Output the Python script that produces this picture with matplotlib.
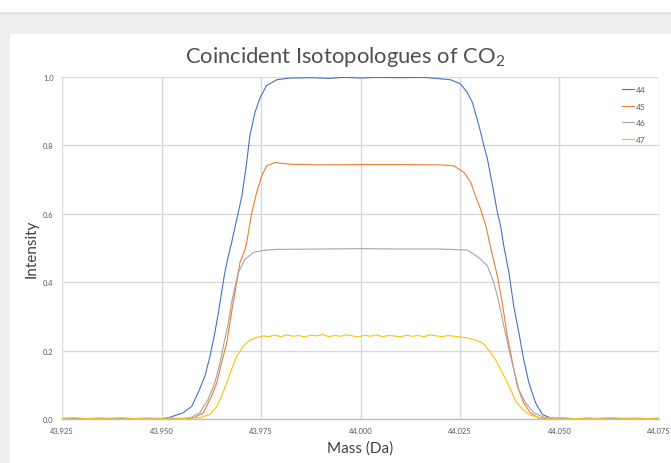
import matplotlib
matplotlib.use('Agg')
import matplotlib.pyplot as plt
from matplotlib.patches import Rectangle

plt.rcParams['font.family'] = ['Lato', 'DejaVu Sans']
plt.rcParams['mathtext.fontset'] = 'custom'
plt.rcParams['mathtext.rm'] = 'Lato'
plt.rcParams['mathtext.default'] = 'regular'

# %% Data
x_ticks = [43.925, 43.950, 43.975, 44.000, 44.025, 44.050, 44.075]
y_ticks = [0.0, 0.2, 0.4, 0.6, 0.8, 1.0]
labels = ['44', '45', '46', '47']
colors = ['#4472C4', '#ED7D31', '#A5A5A5', '#FFC000']

m44 = [43.925, 43.945, 43.950, 43.9521, 43.9554, 43.9576, 43.9592, 43.9609, 43.9622, 43.9634,
       43.9643, 43.9651, 43.9659, 43.9668, 43.9676, 43.9689, 43.9702, 43.9714, 43.9722, 43.9735,
       43.9748, 43.9764, 43.9790, 43.9823, 43.988, 43.992, 43.996, 44.000, 44.004, 44.010,
       44.016, 44.0226, 44.0251, 44.0268, 44.0281, 44.0293, 44.0302, 44.0310, 44.0319, 44.0327,
       44.0335, 44.0344, 44.0352, 44.0360, 44.0373, 44.0385, 44.0398, 44.0410, 44.0423, 44.0440,
       44.0457, 44.0478, 44.055, 44.075]
i44 = [0, 0, 0.001, 0.005, 0.018, 0.037, 0.077, 0.125, 0.184, 0.252,
       0.311, 0.37, 0.428, 0.477, 0.515, 0.584, 0.652, 0.75, 0.828, 0.897,
       0.94, 0.975, 0.992, 0.997, 0.998, 0.996, 0.999, 0.997, 0.999, 0.998,
       0.999, 0.992, 0.98, 0.955, 0.926, 0.877, 0.838, 0.799, 0.76, 0.711,
       0.662, 0.604, 0.565, 0.506, 0.428, 0.33, 0.252, 0.174, 0.106, 0.047,
       0.013, 0.003, 0, 0]

m45 = [43.925, 43.955, 43.958, 43.9605, 43.9626, 43.9639, 43.9651, 43.9664, 43.9672, 43.968,
       43.9689, 43.9697, 43.971, 43.9714, 43.9727, 43.9739, 43.9752, 43.9764, 43.9785, 43.9823,
       43.990, 44.000, 44.010, 44.0201, 44.0235, 44.026, 44.0277, 44.0289, 44.0302, 44.0315,
       44.0327, 44.0344, 44.0356, 44.0369, 44.0382, 44.0394, 44.041, 44.0427, 44.0448, 44.050,
       44.075]
i45 = [0, 0, 0.003, 0.018, 0.067, 0.106, 0.165, 0.223, 0.282, 0.34,
       0.399, 0.457, 0.496, 0.516, 0.604, 0.662, 0.711, 0.74, 0.75, 0.745,
       0.743, 0.744, 0.744, 0.743, 0.74, 0.721, 0.692, 0.652, 0.613, 0.565,
       0.501, 0.418, 0.34, 0.242, 0.165, 0.096, 0.047, 0.018, 0.003, 0,
       0]

m46 = [43.925, 43.954, 43.9571, 43.9596, 43.9617, 43.9634, 43.9647, 43.9659, 43.9668, 43.9676,
       43.9685, 43.9693, 43.971, 43.9731, 43.9756, 43.979, 43.990, 44.000, 44.010, 44.020,
       44.0268, 44.0285, 44.0302, 44.0319, 44.0335, 44.0348, 44.036, 44.0373, 44.0385, 44.0398,
       44.0415, 44.0436, 44.0461, 44.052, 44.075]
i46 = [0, 0, 0.003, 0.018, 0.057, 0.106, 0.165, 0.233, 0.282, 0.34,
       0.389, 0.428, 0.467, 0.487, 0.493, 0.496, 0.497, 0.498, 0.497, 0.497,
       0.494, 0.482, 0.467, 0.447, 0.399, 0.34, 0.272, 0.204, 0.145, 0.086,
       0.047, 0.018, 0.005, 0, 0]

m47 = [43.925, 43.928, 43.931, 43.934, 43.937, 43.940, 43.943, 43.946, 43.949, 43.952,
       43.955, 43.9575, 43.9596, 43.9622, 43.9639, 43.9651, 43.9664, 43.9676, 43.9689, 43.9706,
       43.9722, 43.9739, 43.9755, 43.977, 43.9785, 43.980, 43.9815, 43.983, 43.9845, 43.986,
       43.9875, 43.989, 43.9905, 43.992, 43.9935, 43.995, 43.9965, 43.998, 43.9995, 44.001,
       44.0025, 44.004, 44.0055, 44.007, 44.0085, 44.010, 44.0115, 44.013, 44.0145, 44.016,
       44.0175, 44.019, 44.0205, 44.022, 44.0235, 44.0251, 44.0268, 44.0285, 44.030, 44.031,
       44.0327, 44.0339, 44.0352, 44.0365, 44.0377, 44.039, 44.0407, 44.0427, 44.0452, 44.048,
       44.051, 44.054, 44.057, 44.060, 44.063, 44.066, 44.069, 44.072, 44.075]
i47 = [0.002, 0.004, 0.001, 0.003, 0.002, 0.004, 0.001, 0.003, 0.002, 0.003,
       0.002, 0.003, 0.004, 0.013, 0.037, 0.067, 0.106, 0.145, 0.184, 0.213,
       0.231, 0.238, 0.243, 0.241, 0.245, 0.241, 0.246, 0.242, 0.244, 0.240,
       0.245, 0.243, 0.247, 0.241, 0.244, 0.242, 0.246, 0.243, 0.240, 0.245,
       0.242, 0.246, 0.241, 0.244, 0.243, 0.240, 0.245, 0.242, 0.244, 0.241,
       0.246, 0.243, 0.241, 0.244, 0.242, 0.240, 0.237, 0.232, 0.226, 0.219,
       0.194, 0.174, 0.145, 0.116, 0.086, 0.052, 0.028, 0.011, 0.004, 0.002,
       0.004, 0.001, 0.003, 0.002, 0.004, 0.002, 0.003, 0.001, 0.003]

series = [(m44, i44), (m45, i45), (m46, i46), (m47, i47)]

# %% Figure with the Excel-like frame
W, H = 671, 464
fig = plt.figure(figsize=(W / 100, H / 100), dpi=100)
fig.patch.set_facecolor('#EEEFF1')
fig.patches.append(Rectangle((0, 1 - 13 / H), 1, 13 / H, transform=fig.transFigure,
                             facecolor='white', edgecolor='none', zorder=-2))
fig.patches.append(Rectangle((0, 1 - 16 / H), 1, 3 / H, transform=fig.transFigure,
                             facecolor='#E2E3E5', edgecolor='none', zorder=-2))
fig.patches.append(Rectangle((10 / W, 0), 1, 1 - 35 / H, transform=fig.transFigure,
                             facecolor='white', edgecolor='none', zorder=-2))

ax = fig.add_axes([62 / W, 1 - 420 / H, 597 / W, 342 / H])
ax.set_zorder(2)
ax.set_facecolor('none')

for (m, i), lab, c in zip(series, labels, colors):
    ax.plot(m, i, color=c, lw=0.8, label=lab)

ax.set_xlim(x_ticks[0], x_ticks[-1])
ax.set_ylim(0, 1.0)
ax.set_xticks(x_ticks)
ax.set_xticklabels([f'{v:.3f}' for v in x_ticks])
ax.set_yticks(y_ticks)
ax.set_yticklabels([f'{v:.1f}' for v in y_ticks])
ax.tick_params(length=0, labelsize=5.5, labelcolor='#595959', pad=6)
ax.grid(True, color='#D9D9D9', lw=1.0)
ax.set_axisbelow(True)
for s in ['top', 'right', 'left']:
    ax.spines[s].set_visible(False)
ax.spines['bottom'].set_color('#BFBFBF')
ax.spines['bottom'].set_linewidth(1.0)

ax.set_xlabel('Mass (Da)', fontsize=11, color='#404040', labelpad=4)
ax.set_ylabel('Intensity', fontsize=11, color='#404040', labelpad=3)

fig.text(345 / W, 1 - 57 / H, 'Coincident Isotopologues of CO$_2$', ha='center', va='center',
         fontsize=15.8, color='#505050')

leg = ax.legend(loc='upper right', bbox_to_anchor=(0.99, 0.995), frameon=False, fontsize=6,
                handlelength=1.4, handletextpad=0.2, labelspacing=1.15)
for t in leg.get_texts():
    t.set_color('#595959')

plt.savefig('out.png', dpi=100)
